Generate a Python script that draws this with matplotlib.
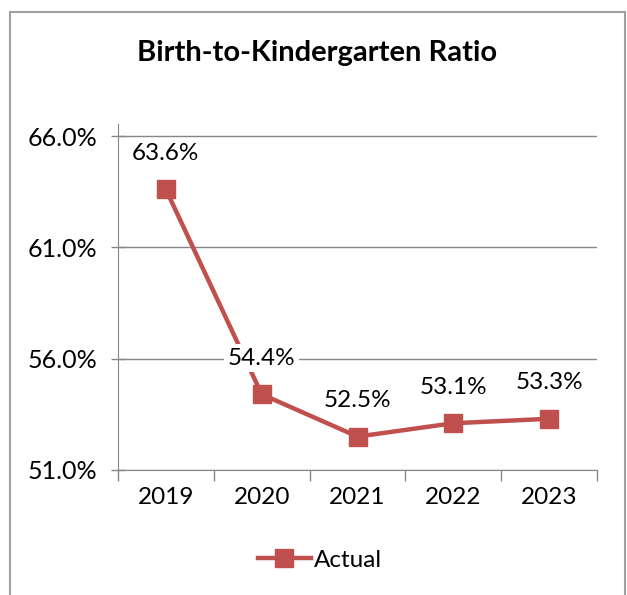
import matplotlib.pyplot as plt
from matplotlib.patches import Rectangle

years = ["2019", "2020", "2021", "2022", "2023"]
actual = [63.6, 54.4, 52.5, 53.1, 53.3]
yticks = [51.0, 56.0, 61.0, 66.0]

plt.rcParams["font.family"] = ["Lato", "DejaVu Sans"]

red = "#C0504D"
grey = "#868686"

fig = plt.figure(figsize=(6.27, 5.95), dpi=100)
ax = fig.add_axes([0.1882, 0.2101, 0.764, 0.5815])

x = list(range(len(years)))
ax.plot(x, actual, color=red, lw=3.2, marker="s", markersize=13,
        markeredgecolor=red, label="Actual", zorder=3)

for xi, v in zip(x, actual):
    ax.annotate(f"{v:.1f}%", (xi, v), xytext=(0, 26), textcoords="offset points",
                ha="center", va="center", fontsize=17.5, color="black",
                bbox=dict(boxstyle="square,pad=0.15", fc="white", ec="none"), zorder=4)

ax.set_xlim(-0.5, 4.5)
ax.set_ylim(51, 66.54)
ax.set_yticks(yticks)
ax.set_yticklabels([f"{t:.1f}%" for t in yticks], fontsize=18)
ax.set_xticks(x)
ax.set_xticklabels(years, fontsize=17.5)
ax.set_xticks([i - 0.5 for i in range(len(years) + 1)], minor=True)
ax.tick_params(axis="x", which="major", length=0, pad=12)
ax.tick_params(axis="x", which="minor", length=8, color=grey, width=1)
ax.tick_params(axis="y", which="major", direction="inout", length=10, color=grey, width=1, pad=10)

ax.grid(axis="y", color=grey, lw=1)
ax.set_axisbelow(True)
for s in ["top", "right"]:
    ax.spines[s].set_visible(False)
for s in ["left", "bottom"]:
    ax.spines[s].set_color(grey)

fig.text(0.505, 0.911, "Birth-to-Kindergarten Ratio", ha="center", va="center",
         fontsize=21, fontweight="bold")

fig.legend(loc="center", bbox_to_anchor=(0.51, 0.058), frameon=False, fontsize=17.5,
           handlelength=2.2, handletextpad=0.1)

fig.patches.append(Rectangle((10 / 627, -0.05), 615 / 627, 1.05 - 12 / 595,
                             transform=fig.transFigure, fill=False, ec="#A0A0A0", lw=1.5))

fig.savefig("out.png")
